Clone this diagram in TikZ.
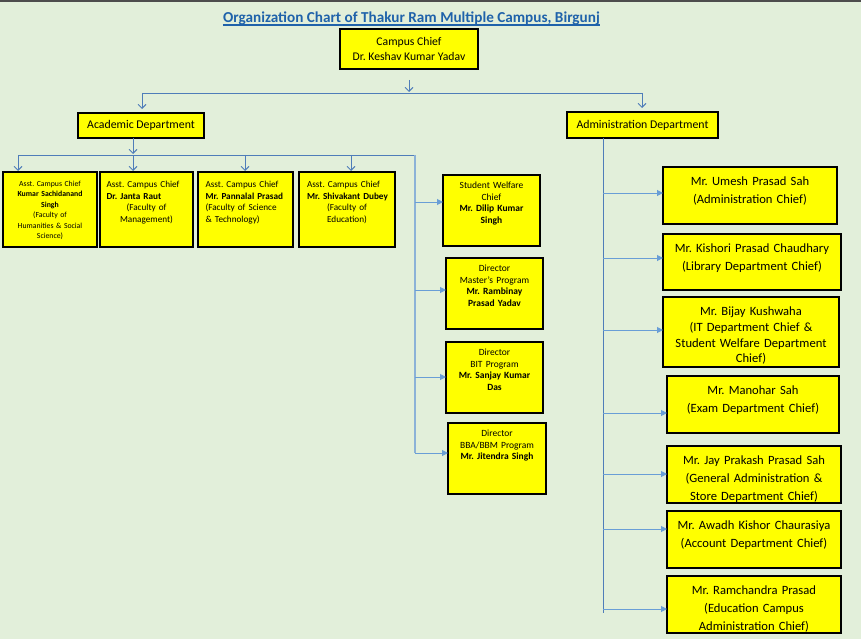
\documentclass[tikz,border=0pt]{standalone}
\usepackage{fontspec}
\setmainfont{Carlito}
\usetikzlibrary{arrows.meta,calc}
\definecolor{bgg}{RGB}{226,239,218}
\definecolor{boxy}{RGB}{255,255,0}
\definecolor{ttlblue}{RGB}{31,98,170}
\definecolor{lndark}{RGB}{79,125,185}
\definecolor{lnlight}{RGB}{105,158,214}
\definecolor{lnpale}{RGB}{140,178,215}
\definecolor{topbar}{RGB}{77,77,77}
\newcommand\fs[2]{\fontsize{#1}{#2}\selectfont}
\newcommand\cl[1]{\makebox[\linewidth]{#1}}
% #1 name, #2 x1, #3 y1, #4 x2, #5 y2, #6 text style, #7 text
\newcommand\orgbox[7]{%
  \node[boxst, minimum width={(#4-#2)*1pt}, minimum height={(#5-#3)*1pt}] (#1) at ({(#2+#4)/2},{(#3+#5)/2}) {};
  \node[txt,#6] (#1t) at (#1.north) {#7};
}
\begin{document}
\frenchspacing
\begin{tikzpicture}[x=1pt,y=-1pt,
  boxst/.style={draw=black,line width=1.3pt,fill=boxy,inner sep=0pt,outer sep=0pt},
  txt/.style={anchor=north,inner sep=0pt,align=center},
  tla/.style={yshift=-9pt,font=\fs{7.75}{10.4},text width=88pt},
  tlb/.style={yshift=-9pt,font=\fs{9.2}{11.7},text width=80pt,align=left},
  tsw/.style={yshift=-7pt,font=\fs{9.5}{11.6},text width=92pt},
  trt/.style={yshift=-10pt,font=\fs{12.6}{18},text width=172pt},
  trc/.style={yshift=-10pt,font=\fs{12.6}{15.6},text width=172pt},
  downarr/.style={draw=lndark,line width=0.9pt,-{Straight Barb[length=4pt,width=8pt,line width=0.9pt]}},
  trunk/.style={draw=lndark,line width=0.9pt},
  pale/.style={draw=lnpale,line width=2pt},
  sidearr/.style={draw=lnlight,line width=1pt,-{Triangle[length=6pt,width=6pt]}}]
\fill[bgg] (0,0) rectangle (861,639);
\fill[topbar] (0,0) rectangle (861,2);
\useasboundingbox (0,0) rectangle (861,639);

% title
\node[anchor=base,inner sep=0pt,font=\fs{15.2}{18}\bfseries,text=ttlblue] (title) at (411.5,23) {Organization Chart of Thakur Ram Multiple Campus, Birgunj};
\draw[ttlblue,line width=1.2pt] ([yshift=-2pt]title.base west) -- ([yshift=-2pt]title.base east);

% top boxes
\node[boxst,minimum width=138pt,minimum height=40pt,align=center,font=\fs{11.7}{15}] (cc) at (409,49) {Campus Chief\\Dr. Keshav Kumar Yadav};
\node[boxst,minimum width=126pt,minimum height=25pt,font=\fs{11.8}{14}] (acad) at (141,125.5) {Academic Department};
\node[boxst,minimum width=151pt,minimum height=26pt,font=\fs{11.8}{14}] (adm) at (642.5,125) {Administration Department};

% academic boxes
\orgbox{la}{3}{172}{97}{247}{tla}{Asst. Campus Chief\\\textbf{Kumar Sachidanand}\\\textbf{Singh}\\(Faculty of\\Humanities \& Social\\Science)}
\orgbox{lb}{100}{172}{193}{247}{tlb}{Asst. Campus Chief\\\textbf{Dr. Janta Raut}\\\cl{(Faculty of}\\\cl{Management)}}
\orgbox{lc}{198}{172}{293}{247}{tlb}{Asst. Campus Chief\\\textbf{Mr. Pannalal Prasad}\\(Faculty of Science\\\& Technology)}
\orgbox{ld}{299}{172}{395}{247}{tlb}{Asst. Campus Chief\\\mbox{\textbf{Mr. Shivakant Dubey}}\\\cl{(Faculty of}\\\cl{Education)}}
\orgbox{sw}{443}{175}{540}{246}{tsw}{Student Welfare\\Chief\\\textbf{Mr. Dilip Kumar}\\\textbf{Singh}}
\orgbox{mp}{446}{258}{543}{329}{tsw}{Director\\Master's Program\\\textbf{Mr. Rambinay}\\\textbf{Prasad Yadav}}
\orgbox{bit}{446}{342}{543}{413}{tsw}{Director\\BIT Program\\\textbf{Mr. Sanjay Kumar}\\\textbf{Das}}
\orgbox{bba}{448}{423}{546}{494}{tsw}{Director\\BBA/BBM Program\\\textbf{Mr. Jitendra Singh}}

% administration boxes
\orgbox{ra}{663}{167}{837}{224}{trt}{Mr. Umesh Prasad Sah\\(Administration Chief)}
\orgbox{rb}{663}{234}{841}{290}{trt}{Mr. Kishori Prasad Chaudhary\\(Library Department Chief)}
\orgbox{rc}{663}{297}{839}{367}{trc}{Mr. Bijay Kushwaha\\(IT Department Chief \&\\Student Welfare Department\\Chief)}
\orgbox{rd}{667}{376}{839}{433}{trt}{Mr. Manohar Sah\\(Exam Department Chief)}
\orgbox{re}{667}{446}{841}{503}{trt}{Mr. Jay Prakash Prasad Sah\\(General Administration \&\\Store Department Chief)}
\orgbox{rf}{667}{511}{841}{568}{trt}{Mr. Awadh Kishor Chaurasiya\\(Account Department Chief)}
\orgbox{rg}{667}{576}{841}{633}{trt}{Mr. Ramchandra Prasad\\(Education Campus\\Administration Chief)}

% connectors: top level
\coordinate (ccj) at (409,92);
\coordinate (hl) at (142,93);
\coordinate (hr) at (642,93);
\draw[downarr] ($(cc.south)+(0,11)$) -- (ccj);
\draw[trunk] (hl) -- (hr);
\draw[downarr] (hl) -- ($(hl |- acad.north)+(0,-4)$);
\draw[downarr] (hr) -- ($(hr |- adm.north)+(0,-4)$);

% academic connectors
\coordinate (aj) at (133,155);
\coordinate (al) at (18,155);
\coordinate (a3) at (245,155);
\coordinate (a4) at (351,155);
\coordinate (ar) at (415,155);
\coordinate (abot) at (415,453);
\draw[downarr] (aj |- acad.south) -- ($(aj)+(0,-1)$);
\draw[trunk] (al) -- (ar);
\draw[pale] (ar) -- (abot);
\draw[downarr] (al) -- ($(al |- la.north)+(0,-1)$);
\draw[downarr] (aj) -- ($(aj |- lb.north)+(0,-1)$);
\draw[downarr] (a3) -- ($(a3 |- lc.north)+(0,-1)$);
\draw[downarr] (a4) -- ($(a4 |- ld.north)+(0,-1)$);
\coordinate (s1) at (415,202);
\coordinate (s2) at (415,290);
\coordinate (s3) at (415,377);
\coordinate (s4) at (415,453);
\draw[sidearr] (s1) -- (s1 -| sw.west);
\draw[sidearr] (s2) -- (s2 -| mp.west);
\draw[sidearr] (s3) -- (s3 -| bit.west);
\draw[sidearr] (s4) -- (s4 -| bba.west);

% administration connectors
\coordinate (vtop) at (603,138);
\coordinate (vbot) at (603,613);
\draw[trunk] (vtop |- adm.south) -- (vbot);
\coordinate (t1) at (603,193);
\coordinate (t2) at (603,258);
\coordinate (t3) at (603,330);
\coordinate (t4) at (603,413);
\coordinate (t5) at (603,474);
\coordinate (t6) at (603,529);
\coordinate (t7) at (603,609);
\draw[sidearr] (t1) -- (t1 -| ra.west);
\draw[sidearr] (t2) -- (t2 -| rb.west);
\draw[sidearr] (t3) -- (t3 -| rc.west);
\draw[sidearr] (t4) -- (t4 -| rd.west);
\draw[sidearr] (t5) -- (t5 -| re.west);
\draw[sidearr] (t6) -- (t6 -| rf.west);
\draw[sidearr] (t7) -- (t7 -| rg.west);
\end{tikzpicture}
\end{document}
